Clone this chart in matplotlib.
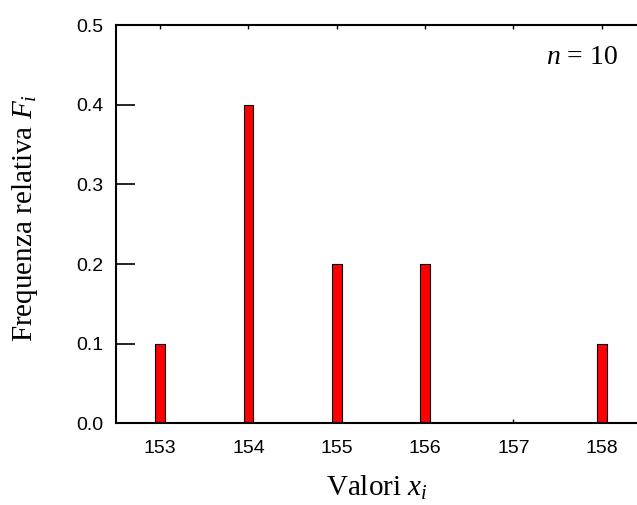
import numpy as np
import matplotlib
matplotlib.use('Agg')
import matplotlib.pyplot as plt

# frequenze relative dei valori osservati
valori = [153, 154, 155, 156, 157, 158]
freq_rel = [0.1, 0.4, 0.2, 0.2, 0.0, 0.1]
y_ticks = [0.0, 0.1, 0.2, 0.3, 0.4, 0.5]
n_tot = 10

plt.rcParams['mathtext.fontset'] = 'custom'
plt.rcParams['mathtext.it'] = 'Liberation Serif:italic'
plt.rcParams['mathtext.rm'] = 'Liberation Serif'

fig = plt.figure(figsize=(6.37, 5.05), dpi=100)
ax = fig.add_axes([0.182, 0.162, 0.818, 0.788])

vals = [v for v, f in zip(valori, freq_rel) if f > 0]
fr = [f for f in freq_rel if f > 0]
ax.bar(vals, fr, width=0.11, color='#ff0000', edgecolor='black', linewidth=0.8, zorder=2)

ax.set_xlim(152.5, 158.4)
ax.set_ylim(0, 0.5)
ax.set_xticks(valori)
ax.set_yticks(y_ticks)
ax.set_yticklabels(['%.1f' % t for t in y_ticks])

for lab in ax.get_xticklabels() + ax.get_yticklabels():
    lab.set_family('Liberation Sans')
    lab.set_fontsize(14)

ax.tick_params(axis='y', direction='in', length=14, width=1.2, pad=9)
ax.tick_params(axis='x', direction='in', length=3, width=1, pad=12, top=True)

for s in ['left', 'bottom', 'top']:
    ax.spines[s].set_linewidth(1.5)
ax.spines['right'].set_visible(False)

ax.set_xlabel('Valori $x_i$', family='Liberation Serif', fontsize=21, labelpad=12)
ax.set_ylabel('Frequenza relativa $F_i$', family='Liberation Serif', fontsize=21)
ax.yaxis.set_label_coords(-0.145, 0.515)

ax.text(0.895, 0.92, '$n$ = %d' % n_tot, transform=ax.transAxes, family='Liberation Serif',
        fontsize=20, ha='center', va='center')

plt.savefig('out.png', dpi=100)
